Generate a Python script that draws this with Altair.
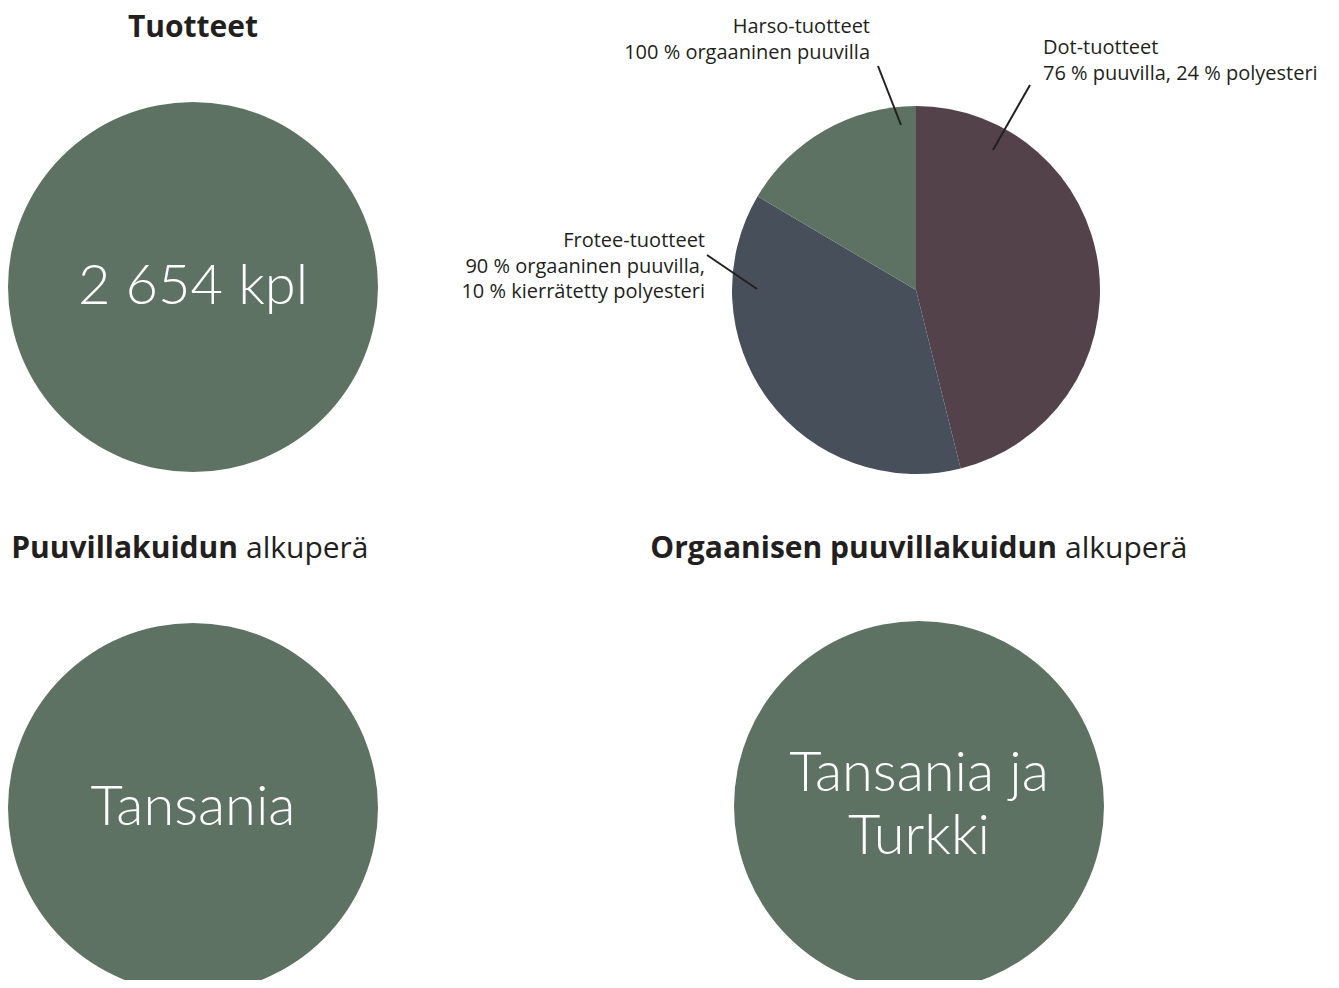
import altair as alt
import pandas as pd

# ---- data ----
products_total = [2654]
products_label = ["2 654 kpl"]
pie_categories = ["Dot-tuotteet", "Frotee-tuotteet", "Harso-tuotteet"]
pie_shares = [46.1, 37.4, 16.5]
pie_order = [1, 2, 3]
pie_labels = [
    "Dot-tuotteet\n76 % puuvilla, 24 % polyesteri",
    "Frotee-tuotteet\n90 % orgaaninen puuvilla,\n10 % kierrätetty polyesteri",
    "Harso-tuotteet\n100 % orgaaninen puuvilla",
]
origin_cotton = ["Tansania"]
origin_organic = ["Tansania ja\nTurkki"]
share_full = [1]

# ---- styles / layout ----
BIG_FONT = "Lato"
FONT = "Open Sans"
TXT = "#231f20"
GREEN = "#5d7262"
PIE_COLORS = ["#54424a", "#474f5b", "#5d7262"]
R = 185
W, H = 1323, 972
OFF = 8  # page margin; view coords = page coords - 8

def P(v):
    return v - OFF

def circle(cx, cy, ty, value, label, size=56, lh=63):
    d = pd.DataFrame({"v": value, "label": label})
    base = alt.Chart(d)
    arc = base.mark_arc(color=GREEN).encode(
        theta=alt.Theta("v:Q"),
        x=alt.value(P(cx)), y=alt.value(P(cy)), radius=alt.value(R),
    )
    txt = base.mark_text(
        font=BIG_FONT, fontSize=size, fontWeight=300, color="white",
        align="center", baseline="middle", lineBreak="\n", lineHeight=lh,
    ).encode(text="label:N", x=alt.value(P(cx)), y=alt.value(P(ty)))
    return [arc, txt]

layers = []
layers += circle(193, 287, 287, products_total, products_label)
layers += circle(193, 808, 808, share_full, origin_cotton)
layers += circle(919, 806, 774, share_full, origin_organic)

# pie
pie_df = pd.DataFrame({"cat": pie_categories, "share": pie_shares, "ord": pie_order})
pie = alt.Chart(pie_df).mark_arc().encode(
    theta=alt.Theta("share:Q", stack=True),
    color=alt.Color("cat:N", scale=alt.Scale(domain=pie_categories, range=PIE_COLORS), legend=None),
    order=alt.Order("ord:Q"),
    x=alt.value(P(916)), y=alt.value(P(290)), radius=alt.value(184),
)
layers.append(pie)

# leader lines (annotation layout, page coords)
lead_x = [1030, 707, 878]
lead_y = [85, 255, 66]
lead_x2 = [993, 757, 901]
lead_y2 = [150, 289, 125]
lead_df = pd.DataFrame({
    "cat": pie_categories,
    "x": [P(v) for v in lead_x], "y": [P(v) for v in lead_y],
    "x2": [P(v) for v in lead_x2], "y2": [P(v) for v in lead_y2],
})
rules = alt.Chart(lead_df).mark_rule(color=TXT, strokeWidth=2).encode(
    x=alt.X("x:Q", scale=None), y=alt.Y("y:Q", scale=None),
    x2="x2:Q", y2="y2:Q",
)
layers.append(rules)

# pie labels (y = first line)
lab_x = [1043, 705, 870]
lab_y = [48, 241, 27]
lab_align = ["left", "right", "right"]
for i in range(3):
    d = pd.DataFrame({"t": [pie_labels[i]]})
    layers.append(
        alt.Chart(d).mark_text(
            font=FONT, fontSize=20, color=TXT, align=lab_align[i],
            baseline="middle", lineBreak="\n", lineHeight=25.5,
        ).encode(text="t:N", x=alt.value(P(lab_x[i])), y=alt.value(P(lab_y[i])))
    )

# titles
def title_text(txt, x, y, weight, align):
    return alt.Chart(pd.DataFrame({"t": [txt]})).mark_text(
        font=FONT, fontSize=30, fontWeight=weight, color=TXT,
        align=align, baseline="middle",
    ).encode(text="t:N", x=alt.value(P(x)), y=alt.value(P(y)))

layers.append(title_text("Tuotteet", 193, 28, "bold", "center"))
layers.append(title_text("Puuvillakuidun", 238, 549, "bold", "right"))
layers.append(title_text("alkuperä", 246, 549, "normal", "left"))
layers.append(title_text("Orgaanisen puuvillakuidun", 1057, 549, "bold", "right"))
layers.append(title_text("alkuperä", 1065, 549, "normal", "left"))

chart = (
    alt.layer(*layers)
    .resolve_scale(theta="independent", color="independent")
    .properties(width=W, height=H, autosize=alt.AutoSizeParams(type="none"), padding=0)
    .configure(background="white")
    .configure_view(strokeWidth=0, stroke=None)
)

chart.save("out.html", embed_options={"renderer": "svg", "actions": False})
